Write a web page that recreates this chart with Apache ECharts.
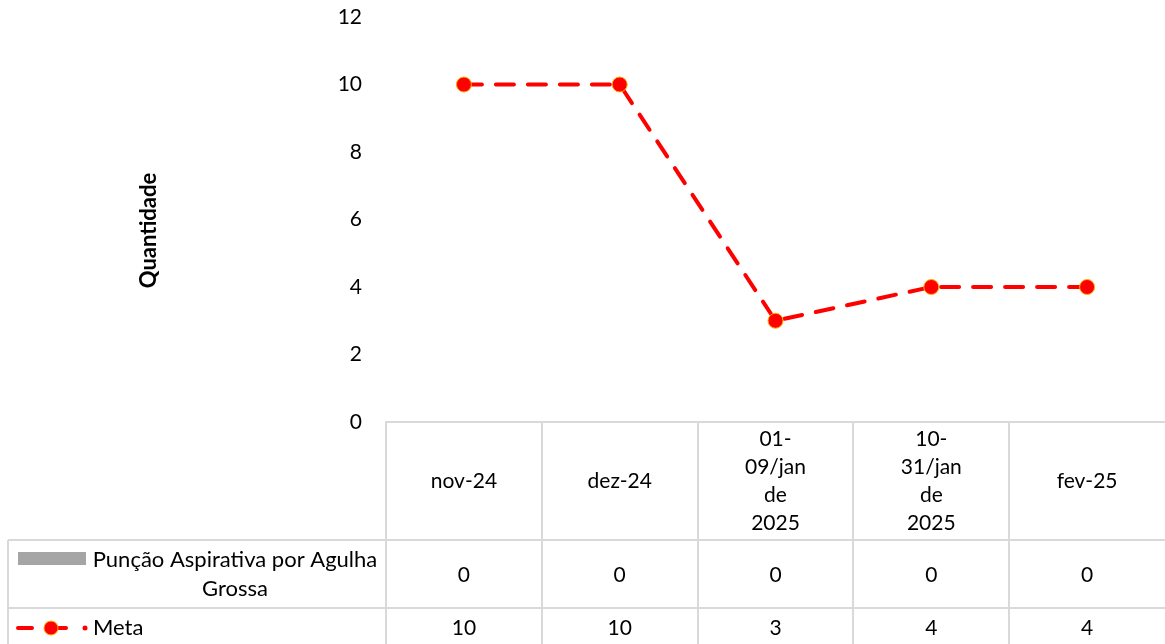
<!DOCTYPE html>
<html><head><meta charset="utf-8">
<script src="https://cdn.jsdelivr.net/npm/echarts@6/dist/echarts.min.js"></script>
<style>html,body{margin:0;padding:0;background:#fff}#c{width:1165px;height:644px}</style>
</head><body><div id="c"></div>
<script>
const categories = ['nov-24', 'dez-24', '01-\n09/jan\nde\n2025', '10-\n31/jan\nde\n2025', 'fev-25'];
const puncaoValues = [0, 0, 0, 0, 0];
const metaValues = [10, 10, 3, 4, 4];
const seriesNames = ['Punção Aspirativa por Agulha Grossa', 'Meta'];
const yAxisTitle = 'Quantidade';
const yMin = 0, yMax = 12, yStep = 2;

const FONT = 'Lato';
const FS = 21;
const GRID = {left: 386, right: 0, top: 17, bottom: 222};
const LINEC = '#d9d9d9';

const chart = echarts.init(document.getElementById('c'), null, {renderer: 'canvas'});

function rowAxis(offset, values) {
  return {
    type: 'category', data: categories, position: 'bottom', offset: offset,
    axisLine: {show: false}, axisTick: {show: false}, splitLine: {show: false},
    axisLabel: {interval: 0, margin: 0, verticalAlign: 'middle', fontSize: FS, color: '#000', fontFamily: FONT,
      formatter: (v, i) => String(values[i])}
  };
}

chart.setOption({
  animation: false,
  textStyle: {fontFamily: FONT},
  grid: {left: GRID.left, right: GRID.right, top: GRID.top, bottom: GRID.bottom, containLabel: false},
  xAxis: [
    {type: 'category', data: categories, position: 'bottom',
     axisLine: {show: true, lineStyle: {color: LINEC, width: 2}}, axisTick: {show: false},
     axisLabel: {interval: 0, margin: 59, verticalAlign: 'middle', fontSize: FS, lineHeight: 28, color: '#000', fontFamily: FONT}},
    rowAxis(153, puncaoValues),
    rowAxis(206, metaValues)
  ],
  yAxis: {
    type: 'value', min: yMin, max: yMax, interval: yStep,
    axisLine: {show: false}, axisTick: {show: false}, splitLine: {show: false},
    axisLabel: {fontSize: FS, color: '#000', margin: 24, fontFamily: FONT},
    name: yAxisTitle, nameLocation: 'middle', nameGap: 226, nameRotate: 90,
    nameTextStyle: {fontSize: 22, fontWeight: 'bold', color: '#000', fontFamily: FONT, padding: [0, 22, 0, 0]}
  },
  series: [
    {name: seriesNames[0], type: 'bar', data: puncaoValues, itemStyle: {color: '#a5a5a5'}, barWidth: '40%'},
    {name: seriesNames[1], type: 'line', data: metaValues,
     lineStyle: {color: '#ff0000', width: 4, type: [18, 14], cap: 'round'},
     symbol: 'circle', symbolSize: 15,
     itemStyle: {color: '#ff0000', borderColor: '#ffb000', borderWidth: 1}}
  ]
});

// Data table lines and legend keys, placed from the axis scale
const axisY = chart.convertToPixel({yAxisIndex: 0}, 0);
const c0 = chart.convertToPixel({xAxisIndex: 0}, 0);
const c1 = chart.convertToPixel({xAxisIndex: 0}, 1);
const band = c1 - c0;
const H = 644, W = 1165;
const row1 = 540, row2 = 608;
const g = [];
const ls = {stroke: LINEC, lineWidth: 2};
for (let i = 0; i < categories.length; i++) {
  const x = Math.round(chart.convertToPixel({xAxisIndex: 0}, i) - band / 2);
  g.push({type: 'line', shape: {x1: x, y1: axisY, x2: x, y2: H}, style: ls, silent: true});
}
g.push({type: 'line', shape: {x1: 8, y1: row1, x2: W, y2: row1}, style: ls, silent: true});
g.push({type: 'line', shape: {x1: 8, y1: row2, x2: W, y2: row2}, style: ls, silent: true});
g.push({type: 'line', shape: {x1: 8, y1: row1, x2: 8, y2: H}, style: ls, silent: true});
// legend keys
g.push({type: 'rect', shape: {x: 18, y: 552, width: 68, height: 13}, style: {fill: '#a5a5a5'}, silent: true});
g.push({type: 'text', x: 235, y: 574, style: {text: 'Punção Aspirativa por Agulha\nGrossa', font: '22px ' + FONT, fill: '#000', align: 'center', verticalAlign: 'middle', lineHeight: 29}, silent: true});
const my = (row2 + H) / 2 + 2;
g.push({type: 'line', shape: {x1: 18, y1: my, x2: 32, y2: my}, style: {stroke: '#ff0000', lineWidth: 4, lineCap: 'round'}, silent: true});
g.push({type: 'line', shape: {x1: 46, y1: my, x2: 66, y2: my}, style: {stroke: '#ff0000', lineWidth: 4, lineCap: 'round'}, silent: true});
g.push({type: 'circle', shape: {cx: 51, cy: my, r: 7}, style: {fill: '#ff0000', stroke: '#ffb000', lineWidth: 1}, silent: true});
g.push({type: 'circle', shape: {cx: 85, cy: my, r: 2.5}, style: {fill: '#ff0000'}, silent: true});
g.push({type: 'text', x: 93, y: my, style: {text: 'Meta', font: '22px ' + FONT, fill: '#000', align: 'left', verticalAlign: 'middle'}, silent: true});
chart.setOption({graphic: g});
</script>
</body></html>
